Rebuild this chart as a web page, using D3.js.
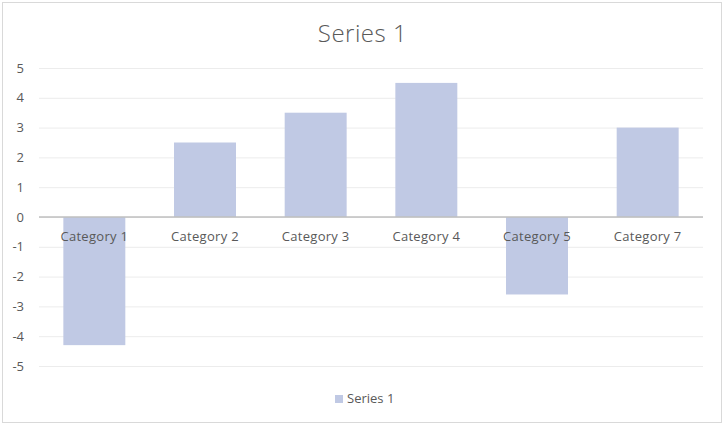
<!DOCTYPE html>
<html>
<head>
<meta charset="utf-8">
<script src="https://cdn.jsdelivr.net/npm/d3@7"></script>
<style>
  body { margin: 0; background: #fff; }
  text { font-family: "Open Sans", "Noto Sans", sans-serif; }
</style>
</head>
<body>
<div id="chart"></div>
<script>
const categories = ["Category 1", "Category 2", "Category 3", "Category 4", "Category 5", "Category 7"];
const seriesName = "Series 1";
const values = [-4.3, 2.5, 3.5, 4.5, -2.6, 3];
const yTicks = [-5, -4, -3, -2, -1, 0, 1, 2, 3, 4, 5];

const width = 725;
const height = 427;
const margin = { top: 68, right: 22, bottom: 61, left: 39 };
const barColor = "#c0c9e4";
const textColor = "#595959";

const svg = d3.select("#chart")
  .append("svg")
  .attr("width", width)
  .attr("height", height);

// chart border
svg.append("rect")
  .attr("x", 2.5)
  .attr("y", 2.5)
  .attr("width", 719)
  .attr("height", 420)
  .attr("fill", "#fff")
  .attr("stroke", "#d9d9d9");

const x = d3.scaleBand()
  .domain(categories)
  .range([margin.left, width - margin.right])
  .paddingInner(0.44)
  .paddingOuter(0.22);

const y = d3.scaleLinear()
  .domain([-5, 5])
  .range([height - margin.bottom, margin.top]);

// gridlines + y labels (plain hyphen for negatives, like the original)
const yAxis = d3.axisLeft(y)
  .tickValues(yTicks)
  .tickSize(-(width - margin.left - margin.right))
  .tickPadding(15)
  .tickFormat(d => String(d));

const yg = svg.append("g")
  .attr("transform", `translate(${margin.left},0)`)
  .call(yAxis);
yg.select(".domain").remove();
yg.selectAll(".tick line").attr("stroke", "#ececec");
yg.selectAll(".tick text")
  .attr("fill", textColor)
  .style("font-size", "13px");

// bars
svg.selectAll(".bar")
  .data(values)
  .enter()
  .append("rect")
  .attr("class", "bar")
  .attr("x", (d, i) => x(categories[i]))
  .attr("width", x.bandwidth())
  .attr("y", d => y(Math.max(0, d)))
  .attr("height", d => Math.abs(y(d) - y(0)))
  .attr("fill", barColor);

// zero line
svg.append("line")
  .attr("x1", margin.left)
  .attr("x2", width - margin.right)
  .attr("y1", y(0))
  .attr("y2", y(0))
  .attr("stroke", "#bfbfbf")
  .attr("stroke-width", 1.5);

// category labels (drawn over bars, below zero line)
const xAxis = d3.axisBottom(x).tickSize(0).tickPadding(19);
const xg = svg.append("g")
  .attr("transform", `translate(0,${y(0)})`)
  .call(xAxis);
xg.select(".domain").remove();
xg.selectAll(".tick text")
  .attr("fill", textColor)
  .attr("dy", "0.35em")
  .style("font-size", "13px")
  .style("letter-spacing", "0.3px");

// title
svg.append("text")
  .attr("x", width / 2)
  .attr("y", 42)
  .attr("text-anchor", "middle")
  .attr("fill", textColor)
  .style("font-size", "24px")
  .style("font-weight", "300")
  .style("letter-spacing", "0.5px")
  .text(seriesName);

// legend
const legend = svg.append("g").attr("transform", "translate(335,395)");
legend.append("rect")
  .attr("width", 8)
  .attr("height", 8)
  .attr("fill", barColor);
legend.append("text")
  .attr("x", 12)
  .attr("y", 8)
  .attr("fill", textColor)
  .style("font-size", "13px")
  .text(seriesName);
</script>
</body>
</html>
